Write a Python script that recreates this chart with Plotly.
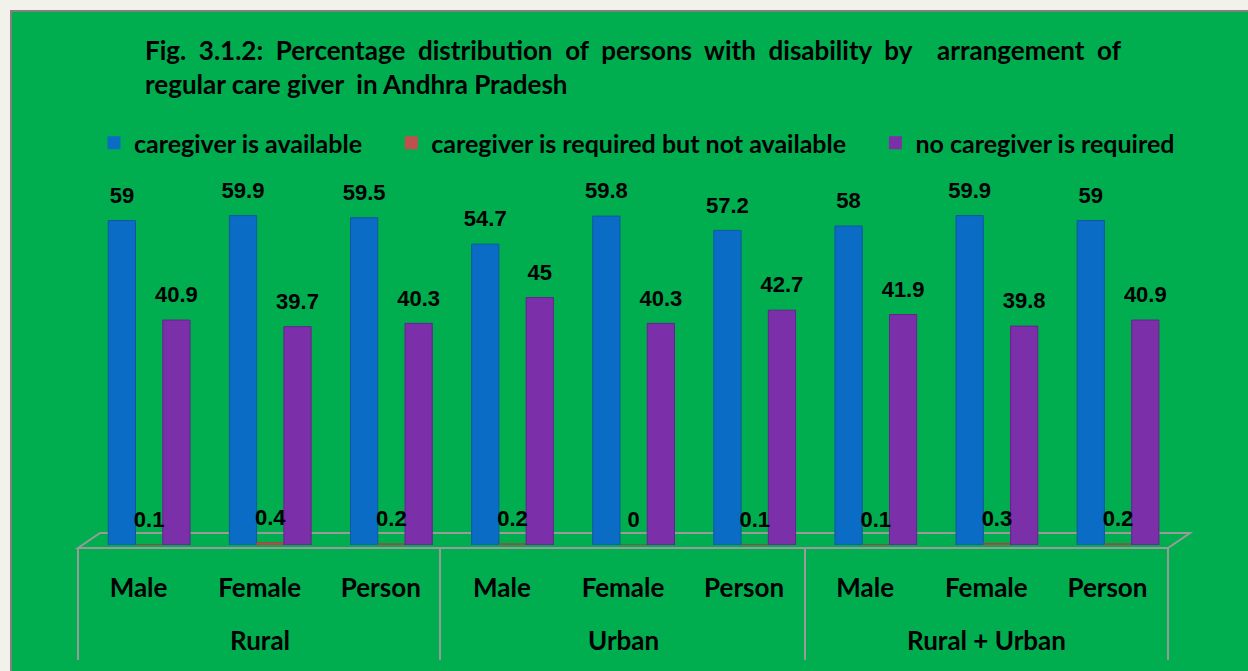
import plotly.graph_objects as go

groups = ["Rural", "Rural", "Rural", "Urban", "Urban", "Urban",
          "Rural + Urban", "Rural + Urban", "Rural + Urban"]
sexes = ["Male", "Female", "Person"] * 3

available = [59, 59.9, 59.5, 54.7, 59.8, 57.2, 58, 59.9, 59]
not_available = [0.1, 0.4, 0.2, 0.2, 0, 0.1, 0.1, 0.3, 0.2]
not_required = [40.9, 39.7, 40.3, 45, 40.3, 42.7, 41.9, 39.8, 40.9]

W, H = 1248, 671
L, R, T, B = 78, 80, 160, 126
pw, ph = W - L - R, H - T - B

def px(x):
    return (x - L) / pw

def py(y):
    return (H - B - y) / ph

idx = list(range(len(sexes)))
bw = 0.225
label_font = dict(family="Liberation Sans", size=22, color="black", weight="bold")

fig = go.Figure()
series = [
    ("caregiver is available", available, "#0A6CC4", "#0858A0", -0.25),
    ("caregiver is required but not available", not_available, "#C0504D", "#A04040", -0.025),
    ("no caregiver is required", not_required, "#7B2FA8", "#63258A", 0.2),
]
pad = "\u00a0" * 4
for k, (name, vals, col, edge, off) in enumerate(series):
    fig.add_trace(go.Bar(
        x=idx, y=vals, name=name,
        marker=dict(color=col, line=dict(width=1, color=edge)),
        width=bw, offset=off, showlegend=False,
    ))
    # value labels
    fig.add_trace(go.Scatter(
        x=[i + off + bw / 2 for i in idx], y=vals, mode="markers+text",
        marker=dict(size=18, opacity=0), text=[str(v) for v in vals],
        textposition="top center", textfont=label_font,
        cliponaxis=False, showlegend=False, hoverinfo="skip",
    ))
    # legend entry
    fig.add_trace(go.Scatter(
        x=[None], y=[None], mode="markers", name=name + (pad if k < 2 else ""),
        marker=dict(symbol="square", size=13, color=col),
    ))

grey = "#9A9A9A"
shapes = [
    # green panel
    dict(type="rect", xref="paper", yref="paper", x0=px(11), x1=px(W + 5),
         y0=py(11), y1=py(H + 5), fillcolor="#00AE4F",
         line=dict(color="#808080", width=2), layer="below"),
    # floor
    dict(type="path", xref="paper", yref="paper",
         path=f"M {px(78)},{py(548)} L {px(100)},{py(533)} L {px(1190)},{py(533)} "
              f"L {px(1168)},{py(548)} Z",
         line=dict(color=grey, width=2), layer="below"),
]
for xv in [78, 440, 805, 1168]:
    shapes.append(dict(type="line", xref="paper", yref="paper",
                       x0=px(xv), x1=px(xv), y0=py(548), y1=py(660),
                       line=dict(color=grey, width=2)))

big_font = dict(family="Lato", size=26, color="black", weight="bold")
annotations = [
    dict(text="Fig.  3.1.2:  Percentage  distribution  of  persons  with  disability  by    arrangement  of",
         xref="paper", yref="paper", x=px(143), y=py(50), xanchor="left",
         yanchor="middle", showarrow=False, font=big_font),
    dict(text="regular care giver  in Andhra Pradesh",
         xref="paper", yref="paper", x=px(143), y=py(84), xanchor="left",
         yanchor="middle", showarrow=False, font=big_font),
]
for g in dict.fromkeys(groups):
    pos = [i for i, gg in zip(idx, groups) if gg == g]
    annotations.append(dict(text=g, xref="x", yref="paper", x=sum(pos) / len(pos),
                            y=py(640), yanchor="middle", showarrow=False,
                            font=big_font))

fig.update_layout(
    width=W, height=H,
    margin=dict(l=L, r=R, t=T, b=B),
    paper_bgcolor="#F2F2EA", plot_bgcolor="rgba(0,0,0,0)",
    barmode="overlay",
    shapes=shapes, annotations=annotations,
    showlegend=True,
    legend=dict(orientation="h", x=px(94), y=py(143), xanchor="left",
                yanchor="middle", bgcolor="rgba(0,0,0,0)",
                font=dict(family="Lato", size=25, color="black", weight="bold"),
                itemwidth=30),
    xaxis=dict(range=[-0.5, len(idx) - 0.5], tickvals=idx, ticktext=sexes,
               showgrid=False, zeroline=False, showline=False, ticks="",
               ticklabelstandoff=25, tickfont=big_font),
    yaxis=dict(range=[0, 70], visible=False),
)

fig.write_html("out.html", config={"displayModeBar": False},
               post_script="document.body.style.margin='0';"
                           "document.body.style.background='#F2F2EA';")
